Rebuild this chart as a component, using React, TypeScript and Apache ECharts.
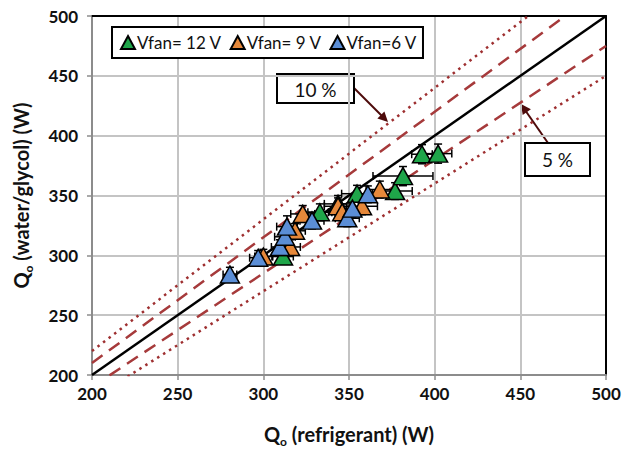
import React, { useEffect, useRef } from "react";
import * as echarts from "echarts";

// Axis ticks
const xTicks = [200, 250, 300, 350, 400, 450, 500];
const yTicks = [200, 250, 300, 350, 400, 450, 500];

// Vfan = 12 V (green)
const g12X = [311.5, 333, 343.6, 354.7, 376.9, 381.5, 392.6, 402];
const g12Y = [299, 336, 343, 351.5, 353.7, 366.2, 384.5, 385];
const g12XErr = [6, 7, 8, 9, 10, 17.5, 6, 8];
const g12YErr = [6, 7, 7, 7, 7, 8, 8, 8];

// Vfan = 9 V (orange)
const o9X = [300, 315.6, 318.5, 323, 343.6, 346, 357.6, 368];
const o9Y = [299, 307, 320.5, 334.6, 341, 336, 341, 355];
const o9XErr = [5, 6, 6, 7, 8, 8, 9, 8];
const o9YErr = [6, 6, 6, 7, 7, 7, 7, 7];

// Vfan = 6 V (blue)
const b6X = [280.5, 297, 309.7, 312.6, 313.8, 328.4, 349, 352, 361];
const b6Y = [284, 298, 307, 315.5, 324, 329, 331, 339, 351];
const b6XErr = [4, 5, 5, 6, 6, 7, 7, 7, 8];
const b6YErr = [6, 6, 6, 7, 9, 7, 7, 7, 7];

// Reference lines: y = x, ±5 %, ±10 %
const lineEqual = [[200, 200], [500, 500]];
const linePlus5 = [[200, 210], [476.19, 500]];
const lineMinus5 = [[200, 190], [500, 475]];
const linePlus10 = [[200, 220], [454.55, 500]];
const lineMinus10 = [[200, 180], [500, 450]];

const seriesNames = ["Vfan= 12 V", "Vfan= 9 V", "Vfan=6 V"];
const colors = ["#1fa64a", "#e6883a", "#5b8ed6"];

const FONT = "Lato, 'Open Sans', sans-serif";

function errSeries(xs: number[], ys: number[], ex: number[], ey: number[]) {
  return {
    type: "custom",
    silent: true,
    clip: false,
    z: 3,
    data: xs.map((x, i) => [x, ys[i], ex[i], ey[i]]),
    encode: { x: 0, y: 1 },
    renderItem: (params: any, api: any) => {
      const x = api.value(0);
      const y = api.value(1);
      const dx = api.value(2);
      const dy = api.value(3);
      const l = api.coord([x - dx, y]);
      const r = api.coord([x + dx, y]);
      const b = api.coord([x, y - dy]);
      const t = api.coord([x, y + dy]);
      const c = 4;
      const st = { stroke: "#000", lineWidth: 1.5 };
      return {
        type: "group",
        children: [
          { type: "line", shape: { x1: l[0], y1: l[1], x2: r[0], y2: r[1] }, style: st },
          { type: "line", shape: { x1: l[0], y1: l[1] - c, x2: l[0], y2: l[1] + c }, style: st },
          { type: "line", shape: { x1: r[0], y1: r[1] - c, x2: r[0], y2: r[1] + c }, style: st },
          { type: "line", shape: { x1: b[0], y1: b[1], x2: t[0], y2: t[1] }, style: st },
          { type: "line", shape: { x1: b[0] - c, y1: b[1], x2: b[0] + c, y2: b[1] }, style: st },
          { type: "line", shape: { x1: t[0] - c, y1: t[1], x2: t[0] + c, y2: t[1] }, style: st },
        ],
      };
    },
  };
}

function scatterSeries(name: string, color: string, xs: number[], ys: number[]) {
  return {
    type: "scatter",
    name,
    z: 3,
    symbol: "triangle",
    symbolSize: [19, 17],
    data: xs.map((x, i) => [x, ys[i]]),
    itemStyle: { color, borderColor: "#000", borderWidth: 1.5, opacity: 1 },
  };
}

function refLine(data: number[][], color: string, type: any, width: number) {
  return {
    type: "line",
    data,
    symbol: "none",
    silent: true,
    z: 2,
    lineStyle: { color, type, width, cap: "butt" },
  };
}

export default function App() {
  const ref = useRef<HTMLDivElement>(null);
  useEffect(() => {
    if (!ref.current) return;
    const chart = echarts.init(ref.current, null, { renderer: "svg" });
    const axisLabel = { fontFamily: FONT, fontWeight: "bold", fontSize: 17, color: "#111" };
    const nameRich = {
      a: { fontFamily: FONT, fontWeight: "bold", fontSize: 20, color: "#111" },
      s: { fontFamily: FONT, fontWeight: "bold", fontSize: 12, color: "#111", verticalAlign: "bottom", padding: [14, 0, 0, 0] },
    };
    const arrowColor = "#4d0a0a";
    chart.setOption({
      animation: false,
      backgroundColor: "#fff",
      grid: { left: 92, top: 16, right: 30, bottom: 75, containLabel: false },
      legend: {
        data: seriesNames,
        left: 112,
        top: 27,
        padding: [7, 6, 7, 8],
        itemGap: 8,
        itemWidth: 14,
        itemHeight: 13,
        backgroundColor: "#fff",
        borderColor: "#000",
        borderWidth: 2,
        borderRadius: 0,
        textStyle: { fontFamily: FONT, fontSize: 17, color: "#111", padding: [0, 0, 0, -3] },
      },
      xAxis: [
        {
          type: "value",
          min: xTicks[0],
          max: xTicks[xTicks.length - 1],
          interval: xTicks[1] - xTicks[0],
          position: "bottom",
          name: "{a|Q}{s|o}{a| (refrigerant) (W)}",
          nameLocation: "middle",
          nameGap: 46,
          nameTextStyle: { rich: nameRich },
          axisLine: { show: true, lineStyle: { color: "#8c8c8c", width: 2 } },
          axisTick: { show: true, length: 5, lineStyle: { color: "#8c8c8c", width: 1.5 } },
          axisLabel: { ...axisLabel, margin: 10 },
          splitLine: { show: true, lineStyle: { color: "#c4c4c4", width: 2 } },
        },
        {
          type: "value",
          min: xTicks[0],
          max: xTicks[xTicks.length - 1],
          interval: xTicks[1] - xTicks[0],
          position: "top",
          axisLine: { show: true, lineStyle: { color: "#000", width: 2 } },
          axisTick: { show: false },
          axisLabel: { show: false },
          splitLine: { show: false },
        },
      ],
      yAxis: [
        {
          type: "value",
          min: yTicks[0],
          max: yTicks[yTicks.length - 1],
          interval: yTicks[1] - yTicks[0],
          position: "left",
          name: "{a|Q}{s|o}{a| (water/glycol) (W)}",
          nameLocation: "middle",
          nameGap: 58,
          nameRotate: 90,
          nameTextStyle: { rich: nameRich },
          axisLine: { show: true, lineStyle: { color: "#8c8c8c", width: 2 } },
          axisTick: { show: true, length: 5, lineStyle: { color: "#8c8c8c", width: 1.5 } },
          axisLabel: { ...axisLabel, margin: 14 },
          splitLine: { show: true, lineStyle: { color: "#c4c4c4", width: 2 } },
        },
        {
          type: "value",
          min: yTicks[0],
          max: yTicks[yTicks.length - 1],
          interval: yTicks[1] - yTicks[0],
          position: "right",
          axisLine: { show: true, lineStyle: { color: "#000", width: 2 } },
          axisTick: { show: false },
          axisLabel: { show: false },
          splitLine: { show: false },
        },
      ],
      series: [
        refLine(linePlus10, "#9e2f30", [2.5, 4.5], 2.5),
        refLine(lineMinus10, "#9e2f30", [2.5, 4.5], 2.5),
        refLine(linePlus5, "#a63a3b", [13, 8], 2.5),
        refLine(lineMinus5, "#a63a3b", [13, 8], 2.5),
        refLine(lineEqual, "#000", "solid", 2.5),
        errSeries(g12X, g12Y, g12XErr, g12YErr),
        scatterSeries(seriesNames[0], colors[0], g12X, g12Y),
        errSeries(o9X, o9Y, o9XErr, o9YErr),
        scatterSeries(seriesNames[1], colors[1], o9X, o9Y),
        errSeries(b6X, b6Y, b6XErr, b6YErr),
        scatterSeries(seriesNames[2], colors[2], b6X, b6Y),
      ],
      graphic: [
        {
          type: "group",
          z: 100,
          children: [
            { type: "line", shape: { x1: 354, y1: 88, x2: 382, y2: 116 }, style: { stroke: arrowColor, lineWidth: 2 } },
            { type: "polygon", shape: { points: [[388, 122], [377.4, 118.4], [384.4, 111.4]] }, style: { fill: arrowColor } },
            { type: "rect", shape: { x: 277, y: 74, width: 77, height: 29 }, style: { fill: "#fff", stroke: "#000", lineWidth: 2 } },
            { type: "text", x: 315.5, y: 89, style: { text: "10 %", fontFamily: FONT, fontSize: 19, fill: "#111", align: "center", verticalAlign: "middle" } },
            { type: "line", shape: { x1: 548, y1: 143, x2: 525, y2: 110 }, style: { stroke: arrowColor, lineWidth: 2 } },
            { type: "polygon", shape: { points: [[521, 104], [530.9, 109.3], [522.7, 115.1]] }, style: { fill: arrowColor } },
            { type: "rect", shape: { x: 525, y: 143, width: 65, height: 33 }, style: { fill: "#fff", stroke: "#000", lineWidth: 2 } },
            { type: "text", x: 557.5, y: 159.5, style: { text: "5 %", fontFamily: FONT, fontSize: 19, fill: "#111", align: "center", verticalAlign: "middle" } },
          ],
        },
      ],
    });
    return () => chart.dispose();
  }, []);
  return <div ref={ref} style={{ position: "fixed", left: 0, top: 0, width: 636, height: 452 }} />;
}
